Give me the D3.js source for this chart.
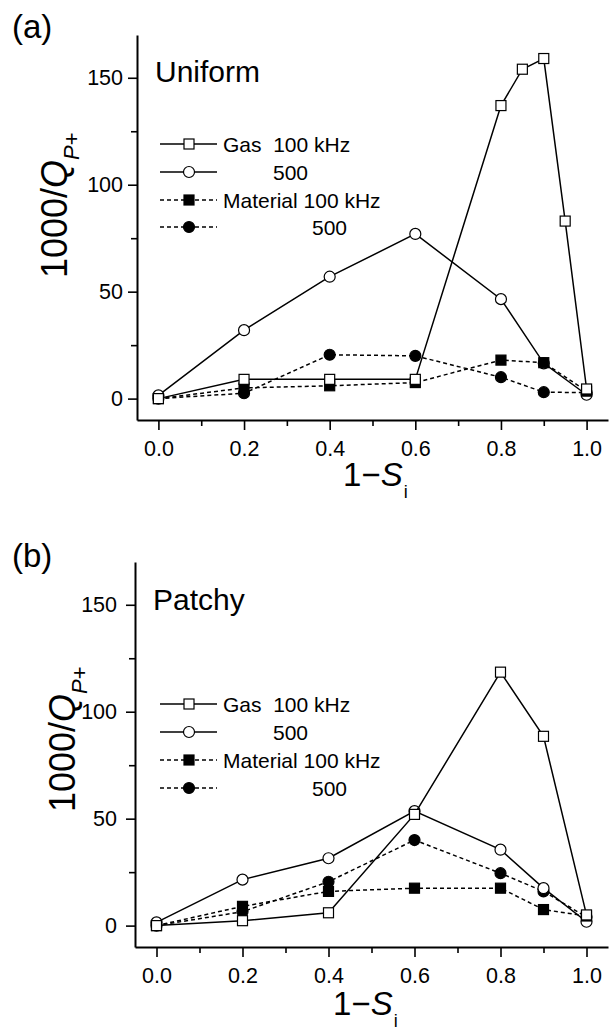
<!DOCTYPE html>
<html>
<head>
<meta charset="utf-8">
<script src="https://cdn.jsdelivr.net/npm/d3@7"></script>
<style>
  body { margin: 0; background: #fff; }
  svg { display: block; font-family: "Liberation Sans", Arial, Helvetica, sans-serif; }
</style>
</head>
<body>
<div id="chart"></div>
<script>
// x positions (1 - S_i)
const xMain = [0, 0.2, 0.4, 0.6, 0.8, 0.9, 1.0];
const xUniformGas100 = [0, 0.2, 0.4, 0.6, 0.8, 0.85, 0.9, 0.95, 1.0];

// (a) Uniform, 1000/Q_P+
const uniformGas100 = [0, 9, 9, 9, 137, 154, 159, 83, 4.5];
const uniformGas500 = [1.5, 32, 57, 77, 46.5, 16.5, 1.8];
const uniformMat100 = [0, 5, 6, 7.5, 18, 16.8, 3.5];
const uniformMat500 = [0, 2.5, 20.5, 20, 10, 3, 2.8];

// (b) Patchy
const patchyGas100 = [0, 2.3, 6, 52, 118.5, 88.5, 5];
const patchyGas500 = [1.5, 21.5, 31.5, 53.5, 35.5, 17.5, 1.8];
const patchyMat100 = [0, 9, 16, 17.5, 17.5, 7.5, 4.5];
const patchyMat500 = [0, 6.5, 20.5, 40, 24.5, 16, 4];

const xTicks = [0, 0.2, 0.4, 0.6, 0.8, 1.0];
const xMinor = [0.1, 0.3, 0.5, 0.7, 0.9];
const yTicks = [0, 50, 100, 150];
const yMinor = [25, 75, 125];
const xDomain = [-0.05, 1.05];
const yDomain = [-10, 170];

const legendLabels = ['Gas  100 kHz', '500', 'Material 100 kHz', '500'];

const W = 613;
const H = 1030;

const svg = d3.select('#chart').append('svg')
  .attr('width', W)
  .attr('height', H);

// draw order: material 500, gas 500, material 100, gas 100
function seriesFor(gas100X, gas100, gas500, mat100, mat500) {
  return [
    {key: 'mat500', xs: xMain, ys: mat500, dash: '4,3', shape: 'circle', fill: '#000'},
    {key: 'gas500', xs: xMain, ys: gas500, dash: null, shape: 'circle', fill: '#fff'},
    {key: 'mat100', xs: xMain, ys: mat100, dash: '4,3', shape: 'square', fill: '#000'},
    {key: 'gas100', xs: gas100X, ys: gas100, dash: null, shape: 'square', fill: '#fff'}
  ];
}

const panels = [
  {
    tag: '(a)', title: 'Uniform',
    left: 137, right: 608, top: 35, bottom: 420,
    tagY: 38, titleY: 82,
    yLabelX: 67, yLabelY: 278, yTickPad: 14,
    xLabelX: 343, xLabelY: 486,
    legendRows: [144, 172, 200, 227],
    series: seriesFor(xUniformGas100, uniformGas100, uniformGas500, uniformMat100, uniformMat500)
  },
  {
    tag: '(b)', title: 'Patchy',
    left: 135, right: 608, top: 562, bottom: 947,
    tagY: 567, titleY: 610,
    yLabelX: 75, yLabelY: 812, yTickPad: 18,
    xLabelX: 333, xLabelY: 1015,
    legendRows: [704, 732, 760, 788],
    series: seriesFor(xMain, patchyGas100, patchyGas500, patchyMat100, patchyMat500)
  }
];

function marker(sel, shape, fill, size) {
  if (shape === 'square') {
    sel.append('rect')
      .attr('x', -size / 2).attr('y', -size / 2)
      .attr('width', size).attr('height', size)
      .attr('fill', fill).attr('stroke', '#000').attr('stroke-width', 1.2);
  } else {
    sel.append('circle')
      .attr('r', size / 2 + 0.5)
      .attr('fill', fill).attr('stroke', '#000').attr('stroke-width', 1.2);
  }
}

function drawPanel(p) {
  const g = svg.append('g');

  const x = d3.scaleLinear().domain(xDomain).range([p.left, p.right]);
  const y = d3.scaleLinear().domain(yDomain).range([p.bottom, p.top]);

  // minor ticks
  g.append('g')
    .attr('transform', `translate(0,${p.bottom})`)
    .call(d3.axisBottom(x).tickValues(xMinor).tickSize(6).tickFormat(''))
    .call(a => a.select('.domain').remove());
  g.append('g')
    .attr('transform', `translate(${p.left},0)`)
    .call(d3.axisLeft(y).tickValues(yMinor).tickSize(6).tickFormat(''))
    .call(a => a.select('.domain').remove());

  // major axes
  const xAxis = g.append('g')
    .attr('transform', `translate(0,${p.bottom})`)
    .call(d3.axisBottom(x).tickValues(xTicks).tickSize(10).tickSizeOuter(0)
      .tickPadding(11).tickFormat(d3.format('.1f')));
  const yAxis = g.append('g')
    .attr('transform', `translate(${p.left},0)`)
    .call(d3.axisLeft(y).tickValues(yTicks).tickSize(9).tickSizeOuter(0)
      .tickPadding(p.yTickPad - 9).tickFormat(d3.format('d')));

  [xAxis, yAxis].forEach(a => {
    a.selectAll('.domain').attr('stroke-width', 2);
    a.selectAll('.tick text').attr('font-size', 21.5).attr('font-family', null).attr('fill', '#000');
  });
  g.selectAll('.tick line').attr('stroke-width', 1.6);

  // series
  const line = d3.line().x(d => x(d[0])).y(d => y(d[1]));
  p.series.forEach(s => {
    const pts = s.xs.map((v, i) => [v, s.ys[i]]);
    g.append('path')
      .attr('d', line(pts))
      .attr('fill', 'none')
      .attr('stroke', '#000')
      .attr('stroke-width', 1.5)
      .attr('stroke-dasharray', s.dash);
    g.selectAll(null)
      .data(pts)
      .enter()
      .append('g')
      .attr('transform', d => `translate(${x(d[0])},${y(d[1])})`)
      .each(function() { marker(d3.select(this), s.shape, s.fill, 10); });
  });

  // legend, same order as the picture
  const legendOrder = ['gas100', 'gas500', 'mat100', 'mat500'];
  const labelX = [223, 273, 223, 312];
  legendOrder.forEach((k, i) => {
    const s = p.series.find(d => d.key === k);
    const ly = p.legendRows[i];
    g.append('line')
      .attr('x1', 160).attr('x2', 217)
      .attr('y1', ly).attr('y2', ly)
      .attr('stroke', '#000').attr('stroke-width', 1.5)
      .attr('stroke-dasharray', s.dash);
    const m = g.append('g').attr('transform', `translate(189,${ly})`);
    marker(m, s.shape, s.fill, 10);
    g.append('text')
      .attr('x', labelX[i]).attr('y', ly)
      .attr('dy', '0.36em')
      .attr('font-size', 21)
      .attr('xml:space', 'preserve')
      .style('white-space', 'pre')
      .text(legendLabels[i]);
  });

  // panel tag and title
  g.append('text')
    .attr('x', 12).attr('y', p.tagY)
    .attr('font-size', 33)
    .text(p.tag);
  g.append('text')
    .attr('x', p.left + 18).attr('y', p.titleY)
    .attr('font-size', 30)
    .text(p.title);

  // y label 1000/Q_P+
  const yl = g.append('text')
    .attr('transform', `translate(${p.yLabelX},${p.yLabelY}) rotate(-90)`)
    .attr('font-size', 36);
  yl.append('tspan').text('1000/');
  yl.append('tspan').attr('font-style', 'italic').text('Q');
  yl.append('tspan').attr('font-size', 22).attr('font-style', 'italic').attr('dy', 12).text('P');
  yl.append('tspan').attr('font-size', 22).text('+');

  // x label 1-S_i
  const xl = g.append('text')
    .attr('x', p.xLabelX).attr('y', p.xLabelY)
    .attr('font-size', 33);
  xl.append('tspan').text('1\u2212');
  xl.append('tspan').attr('font-style', 'italic').text('S');
  xl.append('tspan').attr('font-size', 18).attr('dy', 12).attr('dx', 1).text('i');
}

panels.forEach(drawPanel);
</script>
</body>
</html>
